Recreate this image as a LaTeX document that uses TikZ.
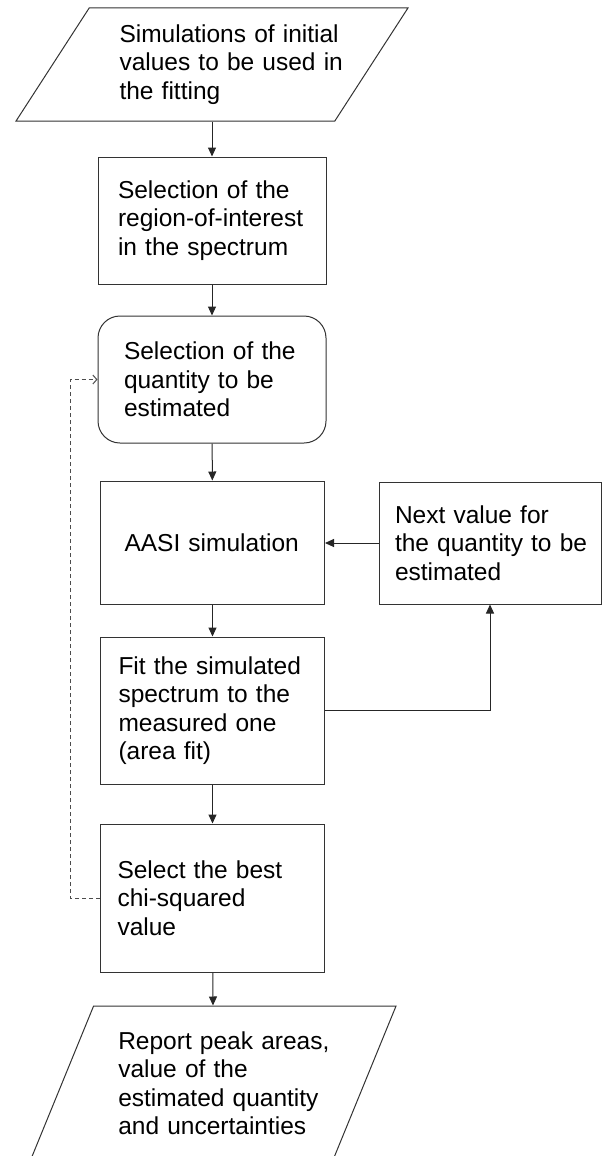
\documentclass[tikz,border=0pt]{standalone}
\usepackage{fontspec}
\setmainfont{Liberation Sans}
\usepackage{tikz}
\usetikzlibrary{shapes.geometric, arrows.meta}
\hyphenpenalty=10000
\exhyphenpenalty=10000

\begin{document}
\begin{tikzpicture}[x=1pt, y=-1pt,
    every node/.style={font=\fontsize{24.5}{28.5}\selectfont},
    box/.style={draw=black!80, line width=1pt, rectangle, align=left, inner sep=0pt},
    io/.style={draw=black!80, line width=1pt, trapezium, trapezium stretches=true, align=left, inner sep=0pt},
    flow/.style={draw=black!85, line width=1pt, -{Triangle[length=9pt, width=8pt]}},
    back/.style={draw=black!70, line width=1pt, dash pattern=on 4pt off 3pt, -{Straight Barb[length=4pt, width=9pt]}}]
    \useasboundingbox (0,0) rectangle (602,1156);
    \clip (0,0) rectangle (602,1156);

    % Input values
    \node[io, trapezium left angle=55.4, trapezium right angle=124.6, minimum width=392pt, minimum height=113pt, text width=185pt] (sim) at (212, 64.5) {Simulations~of~initial\\values~to~be~used~in\\the fitting};

    % Main column
    \node[box, minimum width=228pt, minimum height=127pt, text width=188pt] (roi) at (212, 220.5) {Selection of the\\region-of-interest\\in the spectrum};
    \node[box, rounded corners=22pt, minimum width=228pt, minimum height=127pt, text width=176pt] (qty) at (212, 379.5) {Selection of the\\quantity to be\\estimated};
    \node[box, minimum width=224pt, minimum height=123pt, text width=176pt] (aasi) at (212.5, 542.5) {AASI~simulation};
    \node[box, minimum width=224pt, minimum height=147pt, text width=188pt] (fit) at (212.5, 710.5) {Fit the simulated\\spectrum to the\\measured one\\(area fit)};
    \node[box, minimum width=224pt, minimum height=148pt, text width=190pt] (best) at (212.5, 898) {Select the best\\chi-squared\\value};

    % Side box
    \node[box, minimum width=222pt, minimum height=122pt, text width=190pt] (next) at (490, 543) {Next value for\\the~quantity~to~be\\estimated};

    % Output
    \node[io, trapezium left angle=64.2, trapezium right angle=115.8, minimum width=367pt, minimum height=154pt, text width=190pt] (report) at (213.3, 1083) {Report~peak~areas,\\value of the\\estimated~quantity\\and~uncertainties};

    % Arrows
    \draw[flow] (sim) -- (roi);
    \draw[flow] (roi) -- (qty);
    \draw[flow] (qty) -- (aasi);
    \draw[flow] (aasi) -- (fit);
    \draw[flow] (fit) -- (best);
    \draw[flow] (best) -- (report);
    \draw[flow] (next.west) -- (next.west -| aasi.east);
    \draw[flow] (fit.east) -| (next.south);
    \draw[back] (best.west) -- ++(-30,0) |- (qty.west);
\end{tikzpicture}
\end{document}
